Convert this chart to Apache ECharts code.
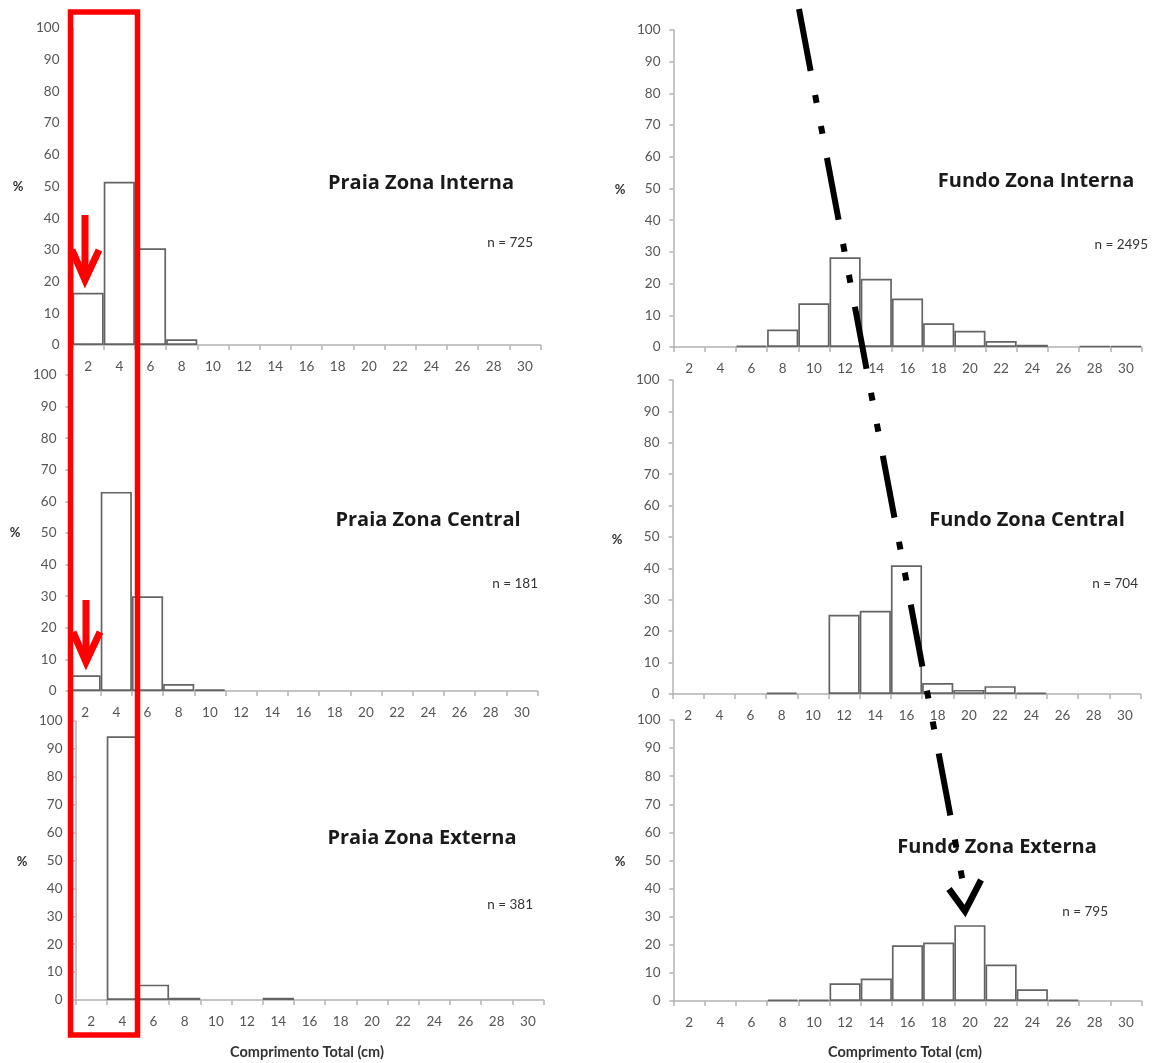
<!DOCTYPE html>
<html>
<head>
<meta charset="utf-8">
<script src="https://cdn.jsdelivr.net/npm/echarts@6/dist/echarts.min.js"></script>
<style>
  html, body { margin: 0; padding: 0; background: #fff; }
  #chart { width: 1154px; height: 1063px; }
</style>
</head>
<body>
<div id="chart"></div>
<script>
// Length classes (cm), shared by all six histograms
const lengthClasses = ['2','4','6','8','10','12','14','16','18','20','22','24','26','28','30'];

// Percentage of individuals per length class
const praiaInterna = [16.5, 51.5, 30.5, 1.8, 0, 0, 0, 0, 0, 0, 0, 0, 0, 0, 0];
const praiaCentral = [5.0, 63.0, 30.0, 2.2, 0.5, 0, 0, 0, 0, 0, 0, 0, 0, 0, 0];
const praiaExterna = [0, 94.5, 5.5, 0.8, 0, 0, 0.8, 0, 0, 0, 0, 0, 0, 0, 0];
const fundoInterna = [0, 0, 0.4, 5.5, 13.8, 28.3, 21.5, 15.3, 7.5, 5.1, 1.9, 0.7, 0, 0.3, 0.3];
const fundoCentral = [0, 0, 0, 0.4, 0, 25.2, 26.5, 41.0, 3.5, 1.3, 2.5, 0.4, 0, 0, 0];
const fundoExterna = [0, 0, 0, 0.5, 0.5, 6.3, 8.0, 19.8, 20.8, 27.0, 13.0, 4.2, 0.5, 0, 0];

// Panel titles and sample sizes
const panelTitles = ['Praia Zona Interna', 'Praia Zona Central', 'Praia Zona Externa',
                     'Fundo Zona Interna', 'Fundo Zona Central', 'Fundo Zona Externa'];
const sampleSizes = ['n = 725', 'n = 181', 'n = 381', 'n = 2495', 'n = 704', 'n = 795'];
const percentTicks = { min: 0, max: 100, interval: 10 };
const xAxisTitle = 'Comprimento Total (cm)';

const panelValues = [praiaInterna, praiaCentral, praiaExterna, fundoInterna, fundoCentral, fundoExterna];

// Plot areas: left, top, width, height
const panelBoxes = [
  [72.5, 28, 468, 317],
  [69.5, 375, 468, 316],
  [75.5, 721, 468, 279],
  [673.5, 30, 468, 317],
  [672.5, 380, 468, 314],
  [673.5, 720, 468, 281]
];

// Title / n label placement
const titlePos = [[421, 183], [428, 520], [422, 838], [1036, 181], [1027, 520], [997, 847]];
const nPos = [[533, 243], [538, 584], [533, 905], [1148, 245], [1138, 584], [1108, 912]];
const pctPos = [[18, 187], [15, 533], [22, 862], [620, 190], [617, 540], [620, 862]];

const labelFont = 'Lato, "Open Sans", sans-serif';
const titleFont = '"Open Sans", Lato, sans-serif';
const axisGray = '#b3b3b3';
const tickText = '#555555';

const grids = [], xAxes = [], yAxes = [], series = [], graphics = [];

panelBoxes.forEach(function (b, i) {
  grids.push({ left: b[0], top: b[1], width: b[2], height: b[3], containLabel: false });
  xAxes.push({
    type: 'category', gridIndex: i, data: lengthClasses, boundaryGap: true,
    axisLine: { lineStyle: { color: axisGray, width: 1.5 } },
    axisTick: { show: true, alignWithLabel: false, length: 5, lineStyle: { color: axisGray, width: 1.5 } },
    axisLabel: { color: tickText, fontSize: 13.5, fontFamily: labelFont, margin: 15, interval: 0 },
    splitLine: { show: false }
  });
  yAxes.push({
    type: 'value', gridIndex: i, min: percentTicks.min, max: percentTicks.max, interval: percentTicks.interval,
    axisLine: { show: true, lineStyle: { color: axisGray, width: 1.5 } },
    axisTick: { show: true, length: 4, lineStyle: { color: axisGray, width: 1.5 } },
    axisLabel: { color: tickText, fontSize: 13.5, fontFamily: labelFont, margin: 13 },
    splitLine: { show: false }
  });
  series.push({
    type: 'bar', xAxisIndex: i, yAxisIndex: i,
    // empty classes get no outline
    data: panelValues[i].map(function (v) { return v === 0 ? '-' : v; }),
    barCategoryGap: '0%',
    itemStyle: { color: '#ffffff', borderColor: '#646464', borderWidth: 1.7 },
    silent: true, animation: false
  });

  graphics.push({
    type: 'text', z: 50,
    style: { text: panelTitles[i], x: titlePos[i][0], y: titlePos[i][1], align: 'center', verticalAlign: 'middle',
             font: 'bold 20px ' + titleFont, fill: '#1a1a1a' }
  });
  graphics.push({
    type: 'text', z: 50,
    style: { text: sampleSizes[i], x: nPos[i][0], y: nPos[i][1], align: 'right', verticalAlign: 'middle',
             font: '13.5px ' + labelFont, fill: '#333333' }
  });
  graphics.push({
    type: 'text', z: 50,
    style: { text: '%', x: pctPos[i][0], y: pctPos[i][1], align: 'center', verticalAlign: 'middle',
             font: 'bold 13px ' + labelFont, fill: '#333333' }
  });
});

// x axis titles under the bottom row
[307, 905].forEach(function (cx) {
  graphics.push({
    type: 'text', z: 50,
    style: { text: xAxisTitle, x: cx, y: 1052, align: 'center', verticalAlign: 'middle',
             font: 'bold 14.5px ' + labelFont, fill: '#333333' }
  });
});

// Red frame around the 2-4 cm classes of the beach samples
graphics.push({
  type: 'rect', z: 100,
  shape: { x: 70.5, y: 12, width: 67, height: 1023 },
  style: { fill: 'none', stroke: '#ff0000', lineWidth: 5.5 }
});

// Red arrows pointing at the 2 cm class
function redArrow(x, y0, y1) {
  graphics.push({
    type: 'polyline', z: 101,
    shape: { points: [[x, y0], [x, y1 - 4]] },
    style: { stroke: '#ff0000', lineWidth: 7, fill: 'none' }
  });
  graphics.push({
    type: 'polyline', z: 101,
    shape: { points: [[x - 13, y1 - 30], [x, y1], [x + 14, y1 - 30]] },
    style: { stroke: '#ff0000', lineWidth: 7, fill: 'none', lineJoin: 'miter' }
  });
}
redArrow(85, 215, 280);
redArrow(86, 600, 662);

// Dash-dot arrow showing the shift of the modal class in the deeper samples
graphics.push({
  type: 'polyline', z: 102,
  shape: { points: [[799, 9], [963.4, 885]] },
  style: { stroke: '#000000', lineWidth: 6, fill: 'none', lineCap: 'butt',
           lineDash: [63, 24.5, 8, 23.5, 8, 24.5] }
});
graphics.push({
  type: 'polyline', z: 102,
  shape: { points: [[949, 889], [965, 911], [981, 880]] },
  style: { stroke: '#000000', lineWidth: 6.5, fill: 'none', lineJoin: 'miter' }
});

const chart = echarts.init(document.getElementById('chart'), null, { renderer: 'canvas' });
chart.setOption({
  animation: false,
  backgroundColor: '#ffffff',
  grid: grids,
  xAxis: xAxes,
  yAxis: yAxes,
  series: series,
  graphic: graphics
});
</script>
</body>
</html>
